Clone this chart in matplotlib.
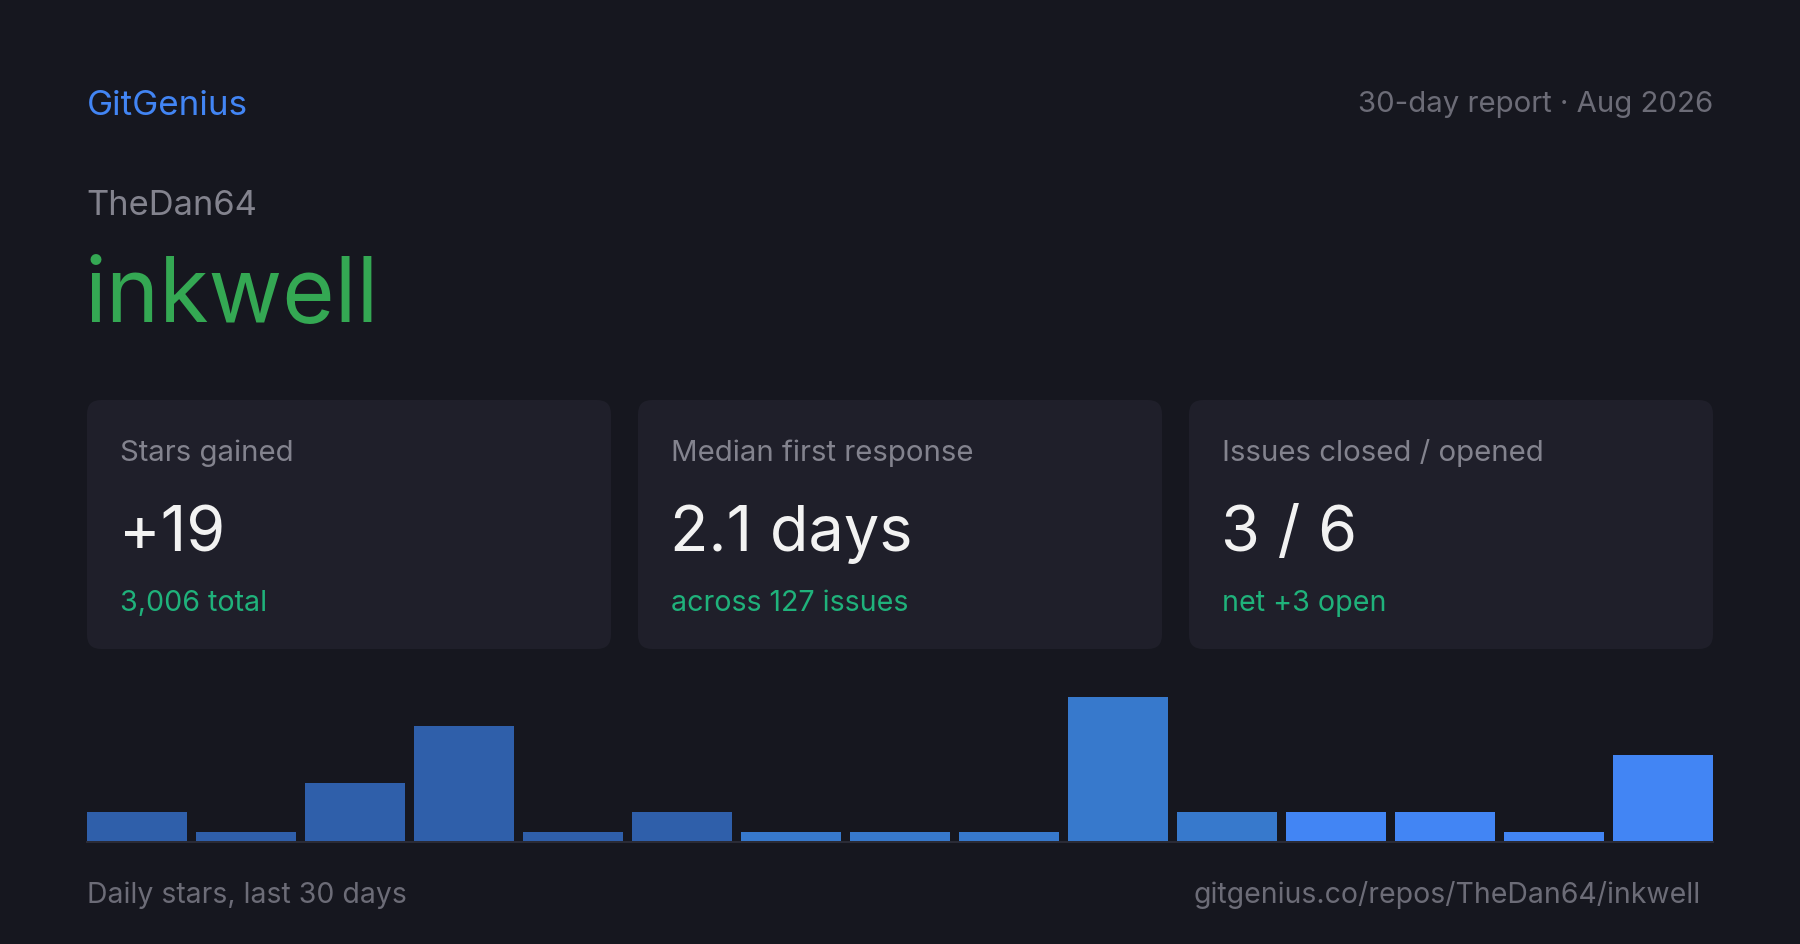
import numpy as np
import matplotlib
matplotlib.use("Agg")
import matplotlib.pyplot as plt
from matplotlib.patches import FancyBboxPatch

plt.rcParams['font.family'] = ['Inter', 'DejaVu Sans']

# ---- data ----
brand = "GitGenius"
report_label = "30-day report · Aug 2026"
owner = "TheDan64"
repo = "inkwell"
card_titles = ["Stars gained", "Median first response", "Issues closed / opened"]
card_values = ["+19", "2.1 days", "3 / 6"]
card_subs = ["3,006 total", "across 127 issues", "net +3 open"]
daily_stars = [1, 0, 2, 4, 0, 1, 0, 0, 0, 5, 1, 1, 1, 0, 3]
bar_colors = ["#2f5faa"] * 6 + ["#3779cc"] * 5 + ["#4285f4"] * 4
footer_left = "Daily stars, last 30 days"
footer_right = "gitgenius.co/repos/TheDan64/inkwell"

# ---- style ----
W, H = 1800, 945
BG = "#16171f"
CARD = "#1f1f2a"
GRAY = "#83838e"
DIM = "#6c6c77"
GREEN = "#34a853"
TEAL = "#1fb27b"
BLUE = "#4285f4"
WHITE = "#f2f2f2"

def pt(px):
    return px * 72 / 100

fig = plt.figure(figsize=(W / 100, H / 100), dpi=100, facecolor=BG)
bg = fig.add_axes([0, 0, 1, 1])
bg.set_xlim(0, W)
bg.set_ylim(H, 0)
bg.axis("off")
bg.set_facecolor(BG)

bg.text(87, 115, brand, color=BLUE, fontsize=pt(35), va="baseline", ha="left")
bg.text(1713, 112, report_label, color=DIM, fontsize=pt(29.4), va="baseline", ha="right")
bg.text(86, 215, owner, color=GRAY, fontsize=pt(34.5), va="baseline", ha="left")
bg.text(85, 322, repo, color=GREEN, fontsize=pt(90), va="baseline", ha="left")

card_x = [87, 638, 1189]
card_w, card_top, card_h = 524, 401, 249
rad = 14
for x, t, v, s in zip(card_x, card_titles, card_values, card_subs):
    p = FancyBboxPatch((x + rad, card_top + rad), card_w - 2 * rad, card_h - 2 * rad,
                       boxstyle=f"round,pad={rad}", facecolor=CARD, edgecolor="none")
    bg.add_patch(p)
    bg.text(x + 33, 461, t, color=GRAY, fontsize=pt(29.4), va="baseline", ha="left")
    bg.text(x + 32, 551, v, color=WHITE, fontsize=pt(63), va="baseline", ha="left")
    bg.text(x + 33, 611, s, color=TEAL, fontsize=pt(28.6), va="baseline", ha="left")

bg.text(87, 903, footer_left, color=DIM, fontsize=pt(28.4), va="baseline", ha="left")
bg.text(1701, 903, footer_right, color=DIM, fontsize=pt(28.4), va="baseline", ha="right")

# ---- bar chart ----
unit_px = 28.8
ymax = 5.3
base_y = 842
ax_h = ymax * unit_px
ax = fig.add_axes([87 / W, (H - base_y) / H, 1626 / W, ax_h / H])
ax.set_facecolor("none")
ax.axis("off")
xs = np.arange(len(daily_stars))
heights = np.maximum(np.array(daily_stars, dtype=float), 0.3)
bw = 0.922
ax.bar(xs, heights, width=bw, color=bar_colors, zorder=3, linewidth=0)
ax.set_xlim(-bw / 2, len(daily_stars) - 1 + bw / 2)
ax.set_ylim(0, ymax)
ax.axhline(-0.035, color="#2a2b36", lw=pt(2), zorder=2, clip_on=False)

fig.savefig("out.png", dpi=100, facecolor=BG)
